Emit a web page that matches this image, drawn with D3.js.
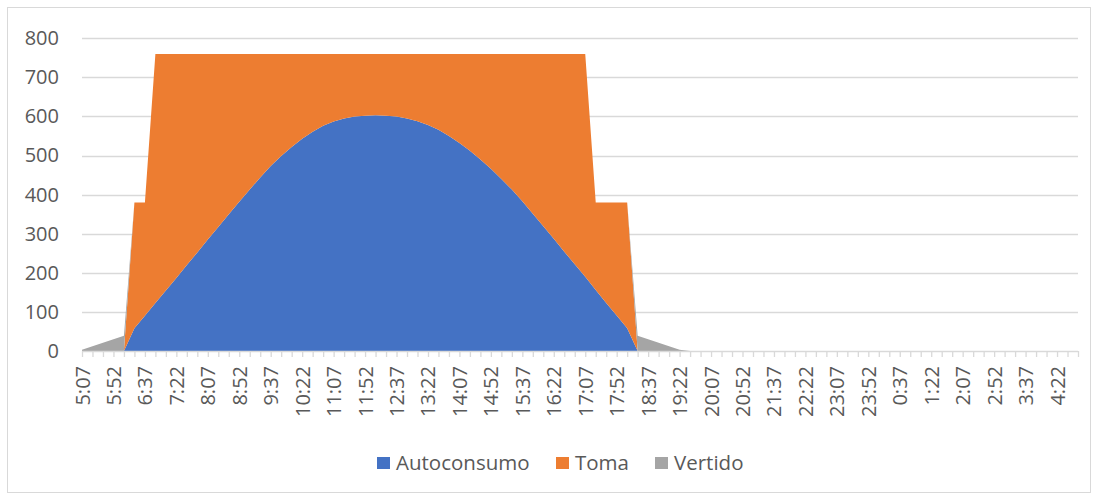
<!DOCTYPE html>
<html>
<head>
<meta charset="utf-8">
<script src="https://cdn.jsdelivr.net/npm/d3@7/dist/d3.min.js"></script>
<style>
  html, body { margin: 0; padding: 0; background: #fff; }
  svg { display: block; font-family: "Open Sans", "Liberation Sans", sans-serif; }
</style>
</head>
<body>
<svg id="chart" width="1099" height="495"></svg>
<script>
// 15-minute time slots over one day, starting at 5:07
const categories = [
  "5:07","5:22","5:37","5:52","6:07","6:22","6:37","6:52",
  "7:07","7:22","7:37","7:52","8:07","8:22","8:37","8:52",
  "9:07","9:22","9:37","9:52","10:07","10:22","10:37","10:52",
  "11:07","11:22","11:37","11:52","12:07","12:22","12:37","12:52",
  "13:07","13:22","13:37","13:52","14:07","14:22","14:37","14:52",
  "15:07","15:22","15:37","15:52","16:07","16:22","16:37","16:52",
  "17:07","17:22","17:37","17:52","18:07","18:22","18:37","18:52",
  "19:07","19:22","19:37","19:52","20:07","20:22","20:37","20:52",
  "21:07","21:22","21:37","21:52","22:07","22:22","22:37","22:52",
  "23:07","23:22","23:37","23:52","0:07","0:22","0:37","0:52",
  "1:07","1:22","1:37","1:52","2:07","2:22","2:37","2:52",
  "3:07","3:22","3:37","3:52","4:07","4:22","4:37","4:52"
];

// Solar energy used on site
const autoconsumo = [
  0, 0, 0, 0, 0, 58, 90, 123,
  155, 187, 220, 252, 285, 317, 350, 382,
  413, 444, 473, 499, 522, 543, 561, 576,
  587, 595, 600, 602, 603, 602, 600, 595,
  588, 578, 566, 550, 532, 512, 490, 466,
  440, 413, 383, 351, 319, 287, 254, 222,
  190, 156, 123, 91, 58, 0, 0, 0,
  0, 0, 0, 0, 0, 0, 0, 0,
  0, 0, 0, 0, 0, 0, 0, 0,
  0, 0, 0, 0, 0, 0, 0, 0,
  0, 0, 0, 0, 0, 0, 0, 0,
  0, 0, 0, 0, 0, 0, 0, 0
];

// Energy drawn from the grid
const toma = [
  0, 0, 0, 0, 0, 322, 290, 637,
  605, 573, 540, 508, 475, 443, 410, 378,
  347, 316, 287, 261, 238, 217, 199, 184,
  173, 165, 160, 158, 157, 158, 160, 165,
  172, 182, 194, 210, 228, 248, 270, 294,
  320, 347, 377, 409, 441, 473, 506, 538,
  570, 224, 257, 289, 322, 0, 0, 0,
  0, 0, 0, 0, 0, 0, 0, 0,
  0, 0, 0, 0, 0, 0, 0, 0,
  0, 0, 0, 0, 0, 0, 0, 0,
  0, 0, 0, 0, 0, 0, 0, 0,
  0, 0, 0, 0, 0, 0, 0, 0
];

// Surplus fed into the grid
const vertido = [
  3, 12, 21, 30, 39, 0, 0, 0,
  0, 0, 0, 0, 0, 0, 0, 0,
  0, 0, 0, 0, 0, 0, 0, 0,
  0, 0, 0, 0, 0, 0, 0, 0,
  0, 0, 0, 0, 0, 0, 0, 0,
  0, 0, 0, 0, 0, 0, 0, 0,
  0, 0, 0, 0, 0, 39, 30, 21,
  12, 3, 0, 0, 0, 0, 0, 0,
  0, 0, 0, 0, 0, 0, 0, 0,
  0, 0, 0, 0, 0, 0, 0, 0,
  0, 0, 0, 0, 0, 0, 0, 0,
  0, 0, 0, 0, 0, 0, 0, 0
];

const seriesNames = ["Autoconsumo", "Toma", "Vertido"];
const seriesColors = ["#4472C4", "#ED7D31", "#A5A5A5"];
const yTicks = [0, 100, 200, 300, 400, 500, 600, 700, 800];

const rows = categories.map((c, i) => ({
  time: c,
  Autoconsumo: autoconsumo[i],
  Toma: toma[i],
  Vertido: vertido[i]
}));

const svg = d3.select("#chart");
const plot = { left: 82, right: 1078, top: 38.3, bottom: 351 };
const textColor = "#595959";
const gridColor = "#D9D9D9";

// chart area frame
svg.append("rect")
  .attr("x", 7.5).attr("y", 7.5)
  .attr("width", 1083).attr("height", 485)
  .attr("fill", "#fff")
  .attr("stroke", gridColor).attr("stroke-width", 1);

const x = d3.scalePoint().domain(categories).range([plot.left, plot.right]);
const y = d3.scaleLinear().domain([0, 800]).range([plot.bottom, plot.top]);

// horizontal gridlines
svg.append("g")
  .selectAll("line")
  .data(yTicks.filter(t => t > 0))
  .join("line")
  .attr("x1", plot.left).attr("x2", plot.right)
  .attr("y1", d => Math.round(y(d)) + 0.5).attr("y2", d => Math.round(y(d)) + 0.5)
  .attr("stroke", gridColor).attr("stroke-width", 1.3);

// stacked areas
const stack = d3.stack().keys(seriesNames);
const layers = stack(rows);
const area = d3.area()
  .x(d => x(d.data.time))
  .y0(d => y(d[0]))
  .y1(d => y(d[1]))
  .curve(d3.curveLinear);

svg.append("g")
  .selectAll("path")
  .data(layers)
  .join("path")
  .attr("d", area)
  .attr("fill", (d, i) => seriesColors[i]);

// y axis labels
const yAxis = d3.axisLeft(y).tickValues(yTicks).tickSize(0).tickPadding(0);
const gy = svg.append("g")
  .attr("transform", `translate(${plot.left - 23},0)`)
  .call(yAxis);
gy.select(".domain").remove();
gy.selectAll("text")
  .attr("fill", textColor)
  .style("font-size", "20px")
  .style("font-family", "'Open Sans', sans-serif");

// category axis with a tick for every slot
const xAxis = d3.axisBottom(x)
  .tickSize(6)
  .tickPadding(0)
  .tickFormat((d, i) => (i % 3 === 0 ? d : ""));
const gx = svg.append("g")
  .attr("transform", `translate(0,${plot.bottom})`)
  .call(xAxis);
gx.select(".domain")
  .attr("stroke", gridColor).attr("stroke-width", 1.3)
  .attr("d", `M${plot.left},0.5H${plot.right}`);
gx.selectAll(".tick line").attr("stroke", gridColor).attr("stroke-width", 1.3);
gx.selectAll(".tick text")
  .attr("fill", textColor)
  .style("font-size", "20px")
  .style("font-family", "'Open Sans', sans-serif")
  .attr("text-anchor", "end")
  .attr("dy", "0.35em")
  .attr("transform", "translate(0,15) rotate(-90)")
  .attr("x", 0).attr("y", 0);

// legend
const legendItems = [
  { name: "Autoconsumo", color: seriesColors[0], x: 377 },
  { name: "Toma", color: seriesColors[1], x: 556 },
  { name: "Vertido", color: seriesColors[2], x: 655 }
];
const lg = svg.append("g");
const li = lg.selectAll("g").data(legendItems).join("g")
  .attr("transform", d => `translate(${d.x},0)`);
li.append("rect")
  .attr("x", 0).attr("y", 457)
  .attr("width", 13).attr("height", 12)
  .attr("fill", d => d.color);
li.append("text")
  .attr("x", 19).attr("y", 463)
  .attr("dy", "0.35em")
  .attr("fill", textColor)
  .style("font-size", "20.5px")
  .text(d => d.name);
</script>
</body>
</html>
